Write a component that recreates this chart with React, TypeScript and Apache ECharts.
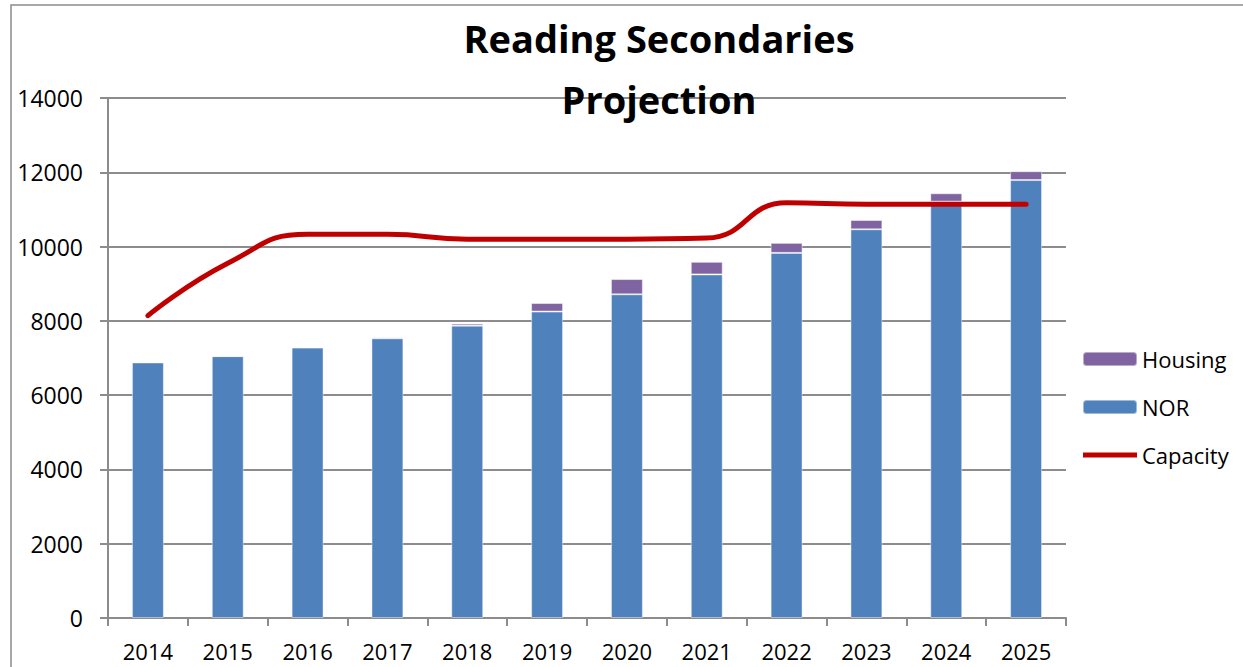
import React, { useEffect, useRef } from "react";
import * as echarts from "echarts";

const years = ["2014", "2015", "2016", "2017", "2018", "2019", "2020", "2021", "2022", "2023", "2024", "2025"];
const norValues = [6880, 7050, 7280, 7530, 7870, 8250, 8715, 9250, 9830, 10465, 11210, 11790];
const housingValues = [0, 0, 0, 30, 55, 230, 410, 340, 270, 250, 225, 240];
const capacityValues = [8140, 9550, 10330, 10330, 10200, 10200, 10200, 10230, 11180, 11140, 11140, 11140];
const titleLines = ["Reading Secondaries", "Projection"];
const legendNames = ["Housing", "NOR", "Capacity"];

const FONT = "'Open Sans', 'Noto Sans', sans-serif";
const GRAY = "#8c8c8c";

export default function App() {
  const ref = useRef<HTMLDivElement>(null);

  useEffect(() => {
    document.body.style.margin = "0";
    if (!ref.current) return;
    const chart = echarts.init(ref.current, undefined, { renderer: "svg" });
    chart.setOption({
      animation: false,
      backgroundColor: "#ffffff",
      textStyle: { fontFamily: FONT },
      grid: { left: 108, right: 177, top: 98, bottom: 49, containLabel: false },
      graphic: [
        {
          type: "rect",
          shape: { x: 11, y: 5, width: 1300, height: 720 },
          style: { fill: "none", stroke: GRAY, lineWidth: 1.5 },
          silent: true,
          z: -1,
        },
        {
          type: "text",
          x: 659,
          y: 7,
          style: {
            text: titleLines.join("\n"),
            font: `bold 38px ${FONT}`,
            fill: "#000000",
            textAlign: "center",
            textVerticalAlign: "top",
            lineHeight: 61,
          },
          z: 10,
        },
      ],
      legend: {
        data: [
          { name: legendNames[0] },
          { name: legendNames[1] },
          { name: legendNames[2], icon: "path://M0,0L56,0L56,5L0,5Z" },
        ],
        orient: "vertical",
        left: 1082,
        top: 348,
        padding: 0,
        itemWidth: 54,
        itemHeight: 14,
        itemGap: 26,
        itemTextGap: 5,
        symbolKeepAspect: true,
        textStyle: { fontSize: 22, color: "#000000", fontFamily: FONT },
      },
      xAxis: {
        type: "category",
        data: years,
        axisLine: { lineStyle: { color: GRAY, width: 2 } },
        axisTick: { show: true, length: 8, lineStyle: { color: GRAY, width: 2 } },
        axisLabel: { fontSize: 22, color: "#000000", margin: 22, fontFamily: FONT },
      },
      yAxis: {
        type: "value",
        min: 0,
        max: 14000,
        interval: 2000,
        axisLine: { show: true, lineStyle: { color: GRAY, width: 2 } },
        axisTick: { show: true, length: 8, lineStyle: { color: GRAY, width: 2 } },
        axisLabel: {
          fontSize: 23,
          color: "#000000",
          margin: 25,
          fontFamily: FONT,
          formatter: (v: number) => String(v),
        },
        splitLine: { show: true, lineStyle: { color: GRAY, width: 2 } },
      },
      series: [
        {
          name: "NOR",
          type: "bar",
          stack: "total",
          data: norValues,
          barWidth: "40%",
          itemStyle: { color: "#4F81BD", borderColor: "rgba(255,255,255,0.45)", borderWidth: 1 },
        },
        {
          name: "Housing",
          type: "bar",
          stack: "total",
          data: housingValues,
          barWidth: "40%",
          itemStyle: { color: "#8064A2", borderColor: "rgba(255,255,255,0.45)", borderWidth: 1 },
        },
        {
          name: "Capacity",
          type: "line",
          data: capacityValues,
          smooth: 0.5,
          symbol: "none",
          lineStyle: { color: "#C00000", width: 5, cap: "round" },
          itemStyle: { color: "#C00000" },
          z: 5,
        },
      ],
    });
    return () => chart.dispose();
  }, []);

  return <div ref={ref} style={{ width: 1243, height: 667 }} />;
}
